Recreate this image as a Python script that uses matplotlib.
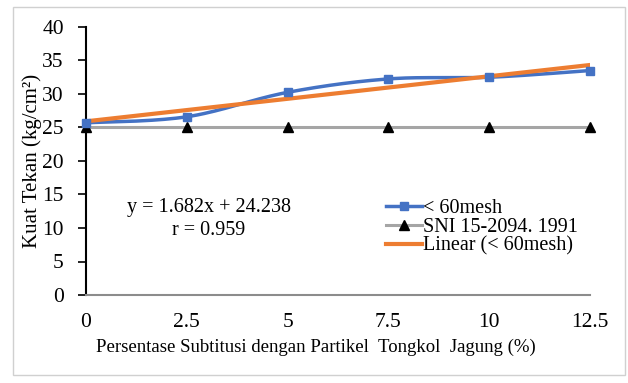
import numpy as np
import matplotlib
matplotlib.use("Agg")
import matplotlib.pyplot as plt
from matplotlib.patches import Rectangle
from matplotlib.lines import Line2D

plt.rcParams['font.family'] = ['Liberation Serif', 'DejaVu Serif']

# Data
substitution = [0, 2.5, 5, 7.5, 10, 12.5]
tick_labels = ["0", "2.5", "5", "7.5", "10", "12.5"]
strength_60mesh = [25.7, 26.6, 30.25, 32.25, 32.5, 33.5]
sni_standard = [25, 25, 25, 25, 25, 25]
trend_slope = 1.682
trend_intercept = 24.238
trend_r = 0.959

fig = plt.figure(figsize=(6.28, 3.83), dpi=100)
fig.patches.append(Rectangle((13/628, 1-375/383), (625-13)/628, (375-7)/383,
                             transform=fig.transFigure, fill=False,
                             edgecolor='#d0d0d0', linewidth=1.0))
ax = fig.add_axes([86/628, 1-295/383, (590-86)/628, (295-27)/383])

x = np.array(substitution, dtype=float)
y = np.array(strength_60mesh, dtype=float)

# Excel-like smoothed line (Catmull-Rom / Bezier)
def smooth(xp, yp, n=30):
    P = np.column_stack([xp, yp])
    P_ext = np.vstack([P[0], P, P[-1]])
    out = []
    for i in range(len(P) - 1):
        p0, p1, p2, p3 = P_ext[i], P_ext[i+1], P_ext[i+2], P_ext[i+3]
        c1 = p1 + (p2 - p0) / 6
        c2 = p2 - (p3 - p1) / 6
        t = np.linspace(0, 1, n)[:, None]
        seg = (1-t)**3*p1 + 3*(1-t)**2*t*c1 + 3*(1-t)*t**2*c2 + t**3*p2
        out.append(seg if i == 0 else seg[1:])
    s = np.vstack(out)
    return s[:, 0], s[:, 1]

sx, sy = smooth(x, y)

ax.plot(x, sni_standard, color='#a5a5a5', linewidth=2.2, zorder=2)
ax.plot(x, sni_standard, linestyle='none', marker='^', markersize=7.5,
        color='black', zorder=4, clip_on=False)
ax.plot(sx, sy, color='#4472c4', linewidth=2.5, zorder=3)
ax.plot(x, y, linestyle='none', marker='s', markersize=6,
        color='#4472c4', zorder=4, clip_on=False)

idx = np.arange(1, len(x) + 1)
trend = trend_slope * idx + trend_intercept
ax.plot(x, trend, color='#ed7d31', linewidth=3, zorder=3)

handles = [
    Line2D([], [], color='#4472c4', linewidth=2.5, marker='s', markersize=6),
    Line2D([], [], color='#a5a5a5', linewidth=2.2, marker='^', markersize=7,
           markerfacecolor='black', markeredgecolor='black'),
    Line2D([], [], color='#ed7d31', linewidth=3),
]
ax.legend(handles, ['< 60mesh', 'SNI 15-2094. 1991', 'Linear (< 60mesh)'],
          loc='upper left', bbox_to_anchor=(0.579, 0.39), frameon=False,
          fontsize=14.5, handlelength=1.8, handletextpad=0.05,
          labelspacing=0.0, borderaxespad=0)

ax.text(3.05, 11.3, f"y = {trend_slope}x + {trend_intercept}\nr = {trend_r}",
        ha='center', va='center', fontsize=14.5, linespacing=1.3)

ax.set_xlim(0, 12.5)
ax.set_ylim(0, 40)
ax.set_xticks(substitution)
ax.set_xticklabels(tick_labels)
ax.set_yticks(np.arange(0, 41, 5))
ax.tick_params(axis='x', length=0, labelsize=15.5, pad=13)
ax.tick_params(axis='y', length=6, width=1.2, labelsize=15.5, direction='out', pad=10)
for s in ['top', 'right']:
    ax.spines[s].set_visible(False)
ax.spines['left'].set_linewidth(1.5)
ax.spines['left'].set_color('black')
ax.spines['bottom'].set_color('#8c8c8c')
ax.spines['bottom'].set_linewidth(1.5)

ax.set_xlabel('Persentase Subtitusi dengan Partikel  Tongkol  Jagung (%)',
              fontsize=13.5)
ax.xaxis.set_label_coords((316-86)/504, (295-339)/268)
ax.set_ylabel('Kuat Tekan (kg/cm²)', fontsize=15, labelpad=0)

fig.savefig('out.png', dpi=100)
